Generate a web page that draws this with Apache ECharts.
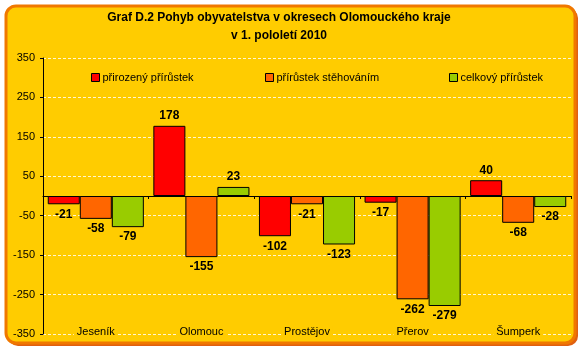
<!DOCTYPE html>
<html><head><meta charset="utf-8">
<script src="https://cdn.jsdelivr.net/npm/echarts@6/dist/echarts.min.js"></script>
<style>html,body{margin:0;padding:0;background:#fff}#c{width:584px;height:352px}</style>
</head><body><div id="c"></div>
<script>
const categories = ['Jeseník','Olomouc','Prostějov','Přerov','Šumperk'];
const seriesNames = ['přirozený přírůstek','přírůstek stěhováním','celkový přírůstek'];
const natural = [-21, 178, -102, -17, 40];
const migration = [-58, -155, -21, -262, -68];
const total = [-79, 23, -123, -279, -28];
const colors = ['#FF0000','#FF6600','#99CC00'];
const yTicks = {min:-350, max:350, step:100};

const chart = echarts.init(document.getElementById('c'), null, {renderer:'canvas'});
function mk(name, vals, color){
  return {
    name, type:'bar', data: vals.map(v=>({value:v, label:{position: v<0?'bottom':'top'}})),
    itemStyle:{color, borderColor:'#000', borderWidth:1},
    barGap:'0%', barCategoryGap:'9%',
    label:{show:true, color:'#000', fontFamily:'Liberation Sans', fontWeight:'bold', fontSize:12, distance:4},
    emphasis:{disabled:true}
  };
}
const legendBase = {top:67, itemWidth:8, itemHeight:8, itemGap:4,
  textStyle:{fontFamily:'Liberation Sans', fontSize:11, color:'#000', padding:[0,0,0,-2]},
  icon:'rect'};
chart.setOption({
  animation:false,
  graphic:[
    {type:'rect', shape:{x:8,y:8,width:570,height:338,r:10}, style:{fill:'#E06010'}, z:-11},
    {type:'rect', shape:{x:6,y:6,width:569,height:337,r:10}, style:{fill:'#FFCC00', stroke:'#F07800', lineWidth:3}, z:-10}
  ],
  title:{text:'Graf D.2 Pohyb obyvatelstva v okresech Olomouckého kraje\nv 1. pololetí 2010', left:274, textAlign:'center', top:4,
    textStyle:{fontFamily:'Liberation Sans', fontWeight:'bold', fontSize:12, lineHeight:18, color:'#000'}},
  legend:[
    Object.assign({}, legendBase, {data:[{name:seriesNames[0], itemStyle:{borderColor:'#000',borderWidth:1}}], left:86}),
    Object.assign({}, legendBase, {data:[{name:seriesNames[1], itemStyle:{borderColor:'#000',borderWidth:1}}], left:260}),
    Object.assign({}, legendBase, {data:[{name:seriesNames[2], itemStyle:{borderColor:'#000',borderWidth:1}}], left:444})
  ],
  grid:{left:43, right:13, top:58, bottom:18},
  xAxis:[
    {type:'category', data:categories, axisLine:{onZero:true, lineStyle:{color:'#000'}},
     axisTick:{show:true, inside:false, length:3, lineStyle:{color:'#000'}}, axisLabel:{show:false}},
    {type:'category', data:categories, position:'bottom', axisLine:{show:false}, axisTick:{show:false},
     axisLabel:{inside:true, margin:-3, fontFamily:'Liberation Sans', fontSize:11, color:'#000', backgroundColor:'#FFCC00', padding:[0,3]}}
  ],
  yAxis:{type:'value', min:yTicks.min, max:yTicks.max, interval:yTicks.step,
    axisLine:{show:true, lineStyle:{color:'#000'}}, axisTick:{show:true, length:3, lineStyle:{color:'#000'}},
    axisLabel:{fontFamily:'Liberation Sans', fontSize:11, color:'#000', margin:8},
    splitLine:{lineStyle:{color:'#FFF6D0', type:[3,2], width:1}}},
  series:[mk(seriesNames[0], natural, colors[0]), mk(seriesNames[1], migration, colors[1]), mk(seriesNames[2], total, colors[2])]
});
</script></body></html>
